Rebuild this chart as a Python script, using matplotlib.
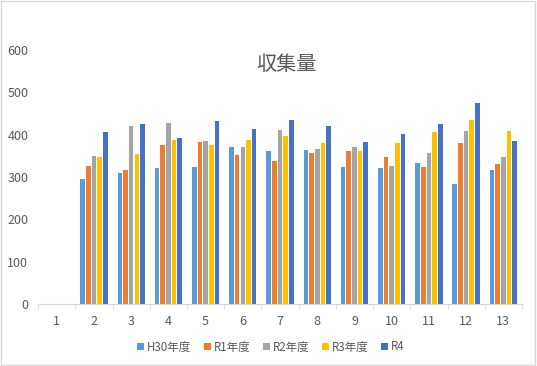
import matplotlib.pyplot as plt
import numpy as np

plt.rcParams['font.family'] = ['Noto Sans CJK JP', 'DejaVu Sans']

categories = ['1', '2', '3', '4', '5', '6', '7', '8', '9', '10', '11', '12', '13']
series_names = ['H30年度', 'R1年度', 'R2年度', 'R3年度', 'R4']
h30 = [np.nan, 296, 310, 322, 324, 371, 361, 364, 324, 321, 333, 283, 317]
r1 = [np.nan, 326, 317, 376, 383, 352, 338, 357, 361, 347, 324, 380, 331]
r2 = [np.nan, 350, 421, 428, 385, 371, 411, 366, 371, 326, 357, 409, 347]
r3 = [np.nan, 347, 355, 388, 376, 388, 397, 380, 361, 380, 407, 435, 409]
r4 = [np.nan, 407, 425, 392, 432, 413, 435, 421, 383, 402, 425, 475, 385]
colors = ['#5B9BD5', '#ED7D31', '#A5A5A5', '#FFC000', '#4472C4']

fig = plt.figure(figsize=(5.37, 3.66), dpi=100)
ax = fig.add_axes([0.071, 0.169, 0.901, 0.694])

x = np.arange(len(categories))
step = 0.152
for i, vals in enumerate([h30, r1, r2, r3, r4]):
    ax.bar(x + (i - 2) * step, vals, width=0.125, color=colors[i], label=series_names[i])

ax.set_xlim(-0.5, len(categories) - 0.5)
ax.set_ylim(0, 600)
ax.set_yticks(range(0, 601, 100))
ax.set_xticks(x)
ax.set_xticklabels(categories)
ax.set_xticks(np.arange(-0.5, len(categories), 1), minor=True)
ax.tick_params(axis='x', which='major', length=0, pad=8, labelsize=9, labelcolor='#595959')
ax.tick_params(axis='x', which='minor', length=3.5, color='#D9D9D9')
ax.tick_params(axis='y', length=0, pad=7, labelsize=9, labelcolor='#595959')
for s in ['top', 'right', 'left']:
    ax.spines[s].set_visible(False)
ax.spines['bottom'].set_color('#D9D9D9')

fig.text(286 / 537, 1 - 65 / 366, '収集量', ha='center', va='center',
         fontsize=14.5, color='#595959')

fig.legend(loc='center', bbox_to_anchor=(271 / 537, 0.052), ncol=5, frameon=False,
           fontsize=8.3, labelcolor='#595959', handlelength=0.6, handleheight=0.6,
           handletextpad=0.25, columnspacing=1.1)

fig.patches.append(plt.Rectangle((0.002, 0.003), 0.994, 0.994, transform=fig.transFigure,
                                 fill=False, edgecolor='#D9D9D9', linewidth=1))

fig.savefig('out.png', dpi=100)
